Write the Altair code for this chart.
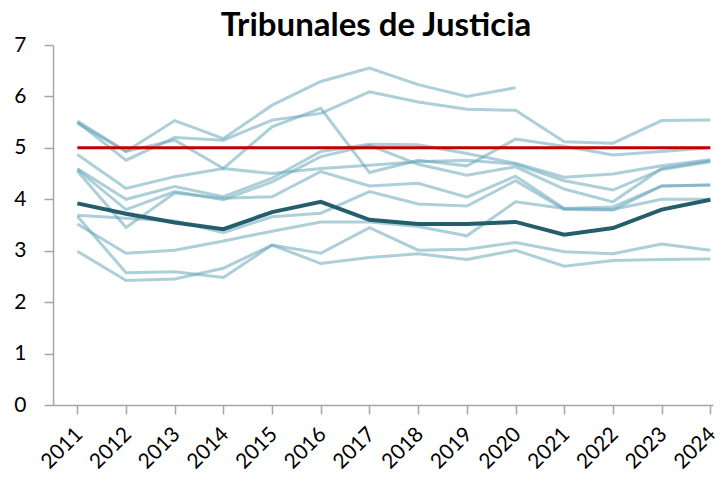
import altair as alt
import pandas as pd

years = list(range(2011, 2025))

# light (individual) series
s1 = [5.52, 4.93, 5.53, 5.18, 5.83, 6.29, 6.55, 6.23, 6.00, 6.17, None, None, None, None]
s2 = [5.50, 4.76, 5.20, 5.15, 5.54, 5.67, 6.09, 5.89, 5.75, 5.73, 5.12, 5.09, 5.53, 5.54]
s3 = [5.48, 4.93, 5.15, 4.60, 5.41, 5.77, 4.52, 4.76, 4.65, 5.17, 5.03, 4.86, 4.93, 5.00]
s4 = [4.87, 4.21, 4.44, 4.60, 4.50, 4.60, 4.66, 4.73, 4.76, 4.68, 4.36, 4.18, 4.58, 4.73]
s5 = [4.60, 4.00, 4.25, 4.05, 4.41, 4.93, 5.07, 5.06, 4.89, 4.70, 4.43, 4.49, 4.65, 4.77]
s6 = [4.58, 3.80, 4.15, 3.99, 4.34, 4.83, 5.05, 4.68, 4.47, 4.63, 4.20, 3.95, 4.60, 4.75]
s7 = [4.55, 3.45, 4.12, 4.02, 4.05, 4.54, 4.26, 4.31, 4.04, 4.45, 3.82, 3.85, 4.26, 4.28]
s8 = [3.69, 3.63, 3.58, 3.35, 3.66, 3.73, 4.15, 3.91, 3.87, 4.36, 3.80, 3.79, 4.26, 4.28]
s9 = [3.52, 2.95, 3.01, 3.19, 3.38, 3.56, 3.56, 3.47, 3.29, 3.95, 3.82, 3.80, 4.00, 4.00]
s10 = [3.67, 2.57, 2.59, 2.48, 3.11, 2.95, 3.45, 3.01, 3.03, 3.16, 2.98, 2.94, 3.13, 3.01]
s11 = [2.99, 2.42, 2.45, 2.66, 3.11, 2.75, 2.87, 2.94, 2.83, 3.01, 2.70, 2.81, 2.83, 2.84]

highlight = [3.92, 3.72, 3.55, 3.42, 3.75, 3.95, 3.60, 3.52, 3.52, 3.56, 3.31, 3.44, 3.80, 3.99]
reference = [5.0] * len(years)

y_ticks = [0, 1, 2, 3, 4, 5, 6, 7]

light = {"s1": s1, "s2": s2, "s3": s3, "s4": s4, "s5": s5, "s6": s6,
         "s7": s7, "s8": s8, "s9": s9, "s10": s10, "s11": s11}

rows = []
for name, vals in light.items():
    for yr, v in zip(years, vals):
        if v is not None:
            rows.append({"series": name, "year": yr, "value": v})
df_light = pd.DataFrame(rows)
df_high = pd.DataFrame({"year": years, "value": highlight})
df_ref = pd.DataFrame({"year": years, "value": reference})

FONT = "Lato"
AX = "#a6a6a6"

x = alt.X("year:Q",
          scale=alt.Scale(domain=[2010.5, 2024.055], nice=False, zero=False),
          axis=alt.Axis(values=years, format="d", labelAngle=-45, labelAlign="right",
                        labelBaseline="top", title=None, grid=False, labelOffset=-6,
                        labelPadding=9, labelOverlap=False, labelFontSize=21))
y = alt.Y("value:Q",
          scale=alt.Scale(domain=[0, 7], nice=False),
          axis=alt.Axis(values=y_ticks, title=None, grid=False, labelPadding=18))

lines = alt.Chart(df_light).mark_line(strokeWidth=3, color="#6aa8b9", opacity=0.55).encode(
    x=x, y=y, detail="series:N")
ref = alt.Chart(df_ref).mark_line(strokeWidth=3, color="#c00000").encode(x=x, y=y)
high = alt.Chart(df_high).mark_line(strokeWidth=4, color="#245d6c").encode(x=x, y=y)

chart = alt.layer(lines, ref, high).properties(
    width=660, height=360,
    autosize=alt.AutoSizeParams(type="none"),
    padding={"left": 45, "top": 37, "right": 7, "bottom": 72},
    title=alt.TitleParams("Tribunales de Justicia", font=FONT, fontSize=33,
                          fontWeight="bold", color="black", anchor="middle",
                          dx=-7, offset=-9),
).configure_view(stroke=None).configure_axis(
    domainColor=AX, tickColor=AX, tickSize=9, domainWidth=1.5, tickWidth=1.5,
    labelFont=FONT, labelFontSize=21, labelColor="black",
)

chart.save("out.html", embed_options={"renderer": "svg", "actions": False})
